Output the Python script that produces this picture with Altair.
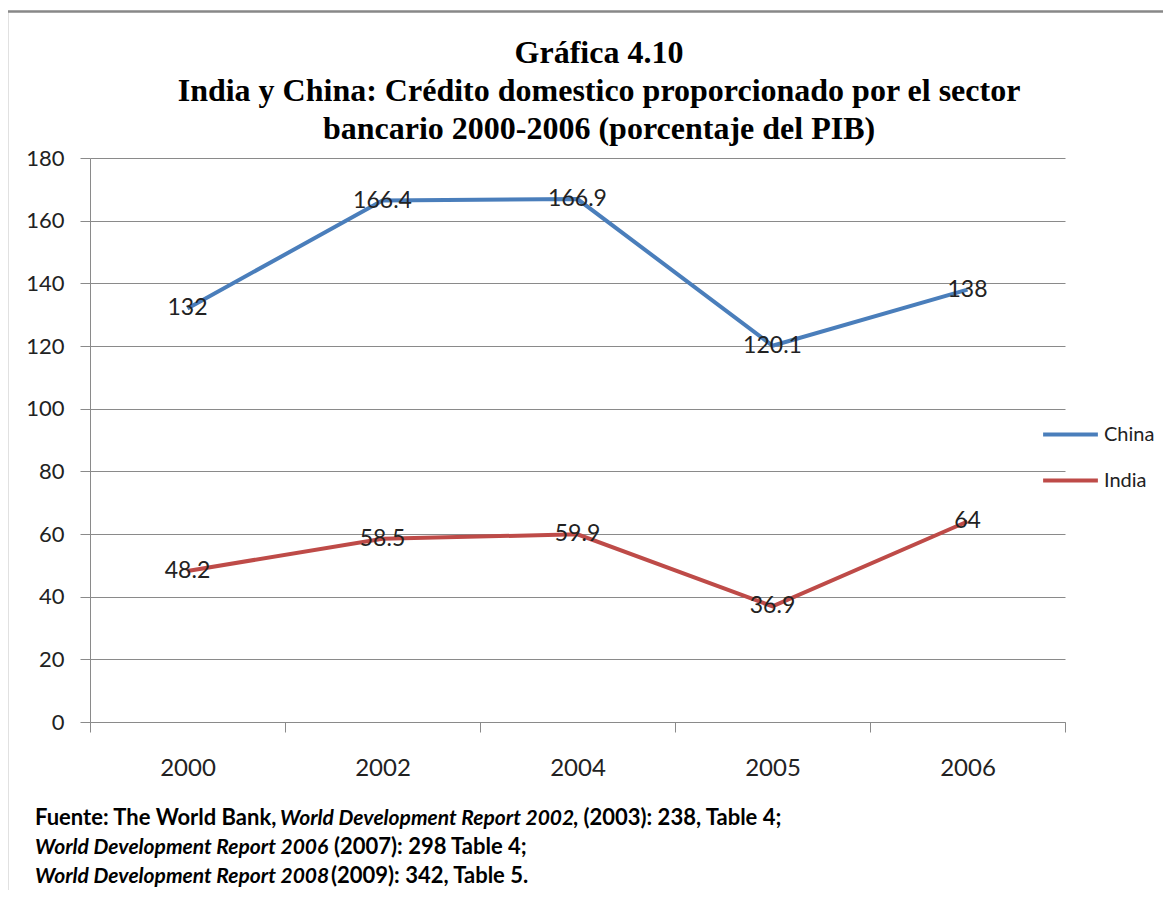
import altair as alt
import pandas as pd

years = ["2000", "2002", "2004", "2005", "2006"]
china = [132, 166.4, 166.9, 120.1, 138]
india = [48.2, 58.5, 59.9, 36.9, 64]
series_names = ["China", "India"]
series_colors = ["#4a7ebb", "#be4b48"]

title_lines = [
    "Gráfica 4.10",
    "India y China: Crédito domestico proporcionado por el sector",
    "bancario 2000-2006 (porcentaje del PIB)",
]

# source note segments: (text, italic, line, x start on page)
source_segments = [
    ("Fuente: The World Bank,", False, 0, 35),
    ("World Development Report 2002", True, 0, 280),
    (", (2003): 238, Table 4;", False, 0, 573),
    ("World Development Report 2006", True, 1, 35),
    ("(2007): 298 Table 4;", False, 1, 334),
    ("World Development Report 2008", True, 2, 35),
    ("(2009): 342, Table 5.", False, 2, 331),
]

rows = []
for name, vals in zip(series_names, [china, india]):
    for y, v in zip(years, vals):
        rows.append({"Año": y, "Serie": name, "Valor": v, "Etiqueta": f"{v:g}"})
df = pd.DataFrame(rows)

W, H = 975, 564
OX, OY = 90, 158  # page position of plot origin
SVG_W, SVG_H = 1155, 882

FONT = "Lato"

x_enc = alt.X(
    "Año:N",
    sort=years,
    title=None,
    scale=alt.Scale(paddingInner=0, paddingOuter=0),
    axis=alt.Axis(
        tickBand="extent",
        labelAngle=0,
        labelFontSize=24,
        labelFont=FONT,
        labelColor="#222222",
        labelPadding=24,
        tickSize=10,
        tickColor="#8a8a8a",
        domainColor="#8a8a8a",
        grid=False,
    ),
)
y_enc = alt.Y(
    "Valor:Q",
    title=None,
    scale=alt.Scale(domain=[0, 180], nice=False),
    axis=alt.Axis(
        values=list(range(0, 181, 20)),
        labelFontSize=22,
        labelFont=FONT,
        labelColor="#222222",
        labelPadding=16,
        tickSize=10,
        tickColor="#8a8a8a",
        domainColor="#8a8a8a",
        gridColor="#8a8a8a",
        gridWidth=1,
    ),
)
color_enc = alt.Color(
    "Serie:N",
    scale=alt.Scale(domain=series_names, range=series_colors),
    legend=alt.Legend(
        title=None,
        orient="none",
        legendX=951,
        legendY=247,
        symbolType="stroke",
        symbolStrokeWidth=4,
        symbolSize=3000,
        labelFontSize=20,
        labelFont=FONT,
        labelColor="#222222",
        rowPadding=6,
        labelOffset=4,
    ),
)

base = alt.Chart(df)
lines = base.mark_line(strokeWidth=4).encode(x=x_enc, y=y_enc, color=color_enc)
labels = base.mark_text(fontSize=23, font=FONT, color="#222222", baseline="middle").encode(
    x=alt.X("Año:N", sort=years), y="Valor:Q", text="Etiqueta:N"
)

frame = alt.Chart(pd.DataFrame({"k": [0]})).mark_rect(
    fill="transparent", stroke="#888888", strokeWidth=2.5
).encode(
    x=alt.value(7 - OX), x2=alt.value(1400), y=alt.value(11.5 - OY), y2=alt.value(1200)
)

title_layers = []
for i, t in enumerate(title_lines):
    title_layers.append(
        alt.Chart(pd.DataFrame({"t": [t]})).mark_text(
            font="Liberation Serif", fontWeight="bold", fontSize=32, color="#000000",
            align="center", baseline="alphabetic",
        ).encode(text="t:N", x=alt.value(599 - OX), y=alt.value(63 + 38 * i - OY))
    )

src_layers = []
for text, ital, line, xs in source_segments:
    src_layers.append(
        alt.Chart(pd.DataFrame({"t": [text]})).mark_text(
            font=FONT, fontWeight="bold", fontStyle="italic" if ital else "normal",
            fontSize=21 if ital else 22, color="#000000", align="left", baseline="alphabetic",
        ).encode(text="t:N", x=alt.value(xs - OX), y=alt.value(825 + 29 * line - OY))
    )

chart = alt.layer(frame, lines, labels, *title_layers, *src_layers).properties(
    width=W,
    height=H,
    autosize=alt.AutoSizeParams(type="none"),
    padding={"left": OX - 8, "top": OY - 8, "right": SVG_W - (OX - 8) - W, "bottom": SVG_H - (OY - 8) - H},
    background="white",
).configure_view(strokeWidth=0)

chart.save("out.html", embed_options={"renderer": "svg", "actions": False})
